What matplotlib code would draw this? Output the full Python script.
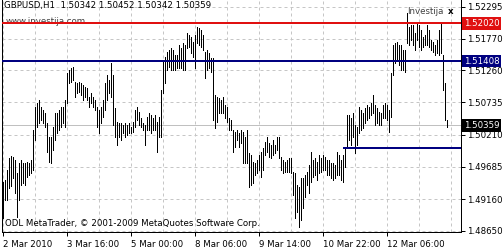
import numpy as np
import matplotlib.pyplot as plt

# GBPUSD H1 bars, high / low (oldest first)
highs = [1.4944, 1.4947, 1.4964, 1.4983, 1.4986, 1.4985, 1.4980, 1.4959, 1.4975, 1.4980,
         1.4975, 1.4975, 1.4977, 1.4975, 1.4980, 1.5029, 1.5066, 1.5073, 1.5077, 1.5066,
         1.5061, 1.5056, 1.5040, 1.5017, 1.5017, 1.5033, 1.5056, 1.5056, 1.5061, 1.5066,
         1.5066, 1.5077, 1.5121, 1.5126, 1.5129, 1.5131, 1.5107, 1.5105, 1.5107, 1.5105,
         1.5102, 1.5099, 1.5097, 1.5082, 1.5089, 1.5082, 1.5077, 1.5066, 1.5061, 1.5066,
         1.5077, 1.5105, 1.5118, 1.5110, 1.5138, 1.5118, 1.5064, 1.5042, 1.5040, 1.5040,
         1.5037, 1.5040, 1.5037, 1.5040, 1.5033, 1.5042, 1.5061, 1.5066, 1.5058, 1.5048,
         1.5040, 1.5037, 1.5050, 1.5056, 1.5053, 1.5048, 1.5053, 1.5042, 1.5050, 1.5094,
         1.5139, 1.5147, 1.5156, 1.5159, 1.5162, 1.5159, 1.5151, 1.5151, 1.5167, 1.5162,
         1.5170, 1.5167, 1.5186, 1.5183, 1.5180, 1.5172, 1.5183, 1.5196, 1.5195, 1.5191,
         1.5183, 1.5156, 1.5159, 1.5154, 1.5146, 1.5146, 1.5086, 1.5082, 1.5081, 1.5077,
         1.5082, 1.5069, 1.5066, 1.5048, 1.5045, 1.5029, 1.5025, 1.5029, 1.5024, 1.5029,
         1.5025, 1.5017, 1.5029, 1.4991, 1.4988, 1.4977, 1.4975, 1.4980, 1.4988, 1.4993,
         1.4999, 1.5009, 1.5017, 1.5007, 1.5004, 1.5012, 1.5004, 1.5017, 1.5017, 1.4985,
         1.4980, 1.4977, 1.4980, 1.4983, 1.4983, 1.4960, 1.4959, 1.4939, 1.4936, 1.4950,
         1.4950, 1.4955, 1.4960, 1.4972, 1.4993, 1.4980, 1.4983, 1.4977, 1.4988, 1.4983,
         1.4988, 1.4985, 1.4980, 1.4980, 1.4975, 1.4975, 1.4972, 1.4993, 1.4988, 1.4980,
         1.4988, 1.4999, 1.5053, 1.5053, 1.5048, 1.5056, 1.5037, 1.5033, 1.5066, 1.5061,
         1.5056, 1.5064, 1.5069, 1.5066, 1.5073, 1.5086, 1.5069, 1.5064, 1.5058, 1.5056,
         1.5069, 1.5073, 1.5069, 1.5061, 1.5121, 1.5167, 1.5170, 1.5172, 1.5167, 1.5167,
         1.5159, 1.5159, 1.5219, 1.5196, 1.5199, 1.5199, 1.5186, 1.5204, 1.5199, 1.5191,
         1.5180, 1.5183, 1.5199, 1.5191, 1.5175, 1.5172, 1.5167, 1.5175, 1.5191, 1.5204,
         1.5151, 1.5105, 1.50452]
lows = [1.4885, 1.4915, 1.4915, 1.4934, 1.4937, 1.4950, 1.4926, 1.4887, 1.4915, 1.4939,
        1.4942, 1.4939, 1.4952, 1.4955, 1.4959, 1.4964, 1.5012, 1.5033, 1.5040, 1.5045,
        1.5040, 1.5033, 1.4993, 1.4977, 1.4975, 1.4996, 1.5012, 1.5024, 1.5029, 1.5033,
        1.5040, 1.5033, 1.5073, 1.5105, 1.5107, 1.5110, 1.5082, 1.5089, 1.5090, 1.5086,
        1.5077, 1.5082, 1.5077, 1.5066, 1.5073, 1.5066, 1.5061, 1.5033, 1.5024, 1.5040,
        1.5050, 1.5061, 1.5077, 1.5089, 1.5082, 1.5037, 1.5017, 1.5004, 1.5017, 1.5012,
        1.5024, 1.5017, 1.5020, 1.5024, 1.5024, 1.5025, 1.5033, 1.5045, 1.5037, 1.5033,
        1.5029, 1.5004, 1.5029, 1.5029, 1.5024, 1.5029, 1.5029, 1.4993, 1.5017, 1.5017,
        1.5089, 1.5105, 1.5126, 1.5131, 1.5126, 1.5126, 1.5126, 1.5129, 1.5129, 1.5129,
        1.5126, 1.5126, 1.5162, 1.5164, 1.5154, 1.5147, 1.5129, 1.5170, 1.5167, 1.5164,
        1.5159, 1.5113, 1.5126, 1.5129, 1.5123, 1.5045, 1.5032, 1.5042, 1.5056, 1.5056,
        1.5056, 1.5048, 1.5042, 1.5029, 1.5029, 1.4993, 1.5001, 1.5012, 1.5001, 1.5007,
        1.4975, 1.4975, 1.4975, 1.4936, 1.4939, 1.4942, 1.4955, 1.4959, 1.4964, 1.4952,
        1.4964, 1.4988, 1.4993, 1.4985, 1.4983, 1.4988, 1.4991, 1.4996, 1.4983, 1.4964,
        1.4959, 1.4960, 1.4960, 1.4960, 1.4959, 1.4923, 1.4885, 1.4895, 1.4871, 1.4882,
        1.4902, 1.4920, 1.4939, 1.4926, 1.4944, 1.4952, 1.4955, 1.4947, 1.4959, 1.4960,
        1.4964, 1.4964, 1.4955, 1.4955, 1.4950, 1.4947, 1.4950, 1.4955, 1.4955, 1.4947,
        1.4944, 1.4968, 1.5001, 1.5012, 1.5004, 1.5017, 1.4991, 1.5004, 1.5024, 1.5029,
        1.5032, 1.5040, 1.5045, 1.5048, 1.5053, 1.5056, 1.5037, 1.5040, 1.5037, 1.5037,
        1.5048, 1.5048, 1.5045, 1.5025, 1.5050, 1.5118, 1.5138, 1.5142, 1.5134, 1.5126,
        1.5126, 1.5123, 1.5170, 1.5167, 1.5175, 1.5167, 1.5159, 1.5175, 1.5164, 1.5159,
        1.5164, 1.5167, 1.5167, 1.5164, 1.5159, 1.5156, 1.5151, 1.5154, 1.5151, 1.5154,
        1.5094, 1.5045, 1.50342]

time_labels = ["2 Mar 2010", "3 Mar 16:00", "5 Mar 00:00", "8 Mar 06:00",
               "9 Mar 14:00", "10 Mar 22:00", "12 Mar 06:00"]
time_pos = [0, 32, 64, 96, 128, 160, 192]
price_ticks = [1.52295, 1.51770, 1.51260, 1.50735, 1.50210, 1.49685, 1.49160, 1.48650]

resist = 1.52020
support_hi = 1.51408
bid = 1.50359
support_lo = 1.5000
support_lo_start = 170

px = 0.72  # one pixel in points at dpi 100
font = 'DejaVu Sans'
fs = 6.2

fig = plt.figure(figsize=(5.03, 2.5), dpi=100)
ax = fig.add_axes([2/503, 18/250, 459/503, 232/250])
ax.set_xlim(-0.5, 229)
ax.set_ylim(1.48626, 1.52401)

# grid
for g in range(0, 230, 16):
    ax.axvline(g, color='#c6c6c6', lw=px, ls=(0, (3, 3)), zorder=0)
for p in price_ticks:
    ax.axhline(p, color='#c6c6c6', lw=px, ls=(0, (3, 3)), zorder=0)

# bid line
ax.axhline(bid, color='#c0c0c0', lw=px, zorder=1)

# bars
x = np.arange(len(highs))
ax.vlines(x, lows, highs, color='black', lw=px, antialiased=False, zorder=2)

# horizontal levels
ax.axhline(resist, color='#e01010', lw=2*px, zorder=3)
ax.axhline(support_hi, color='#000080', lw=2*px, zorder=3)
ax.hlines(support_lo, support_lo_start, 229, color='#000080', lw=2*px, zorder=3)

# axes style
for s in ['top']:
    ax.spines[s].set_visible(False)
for s in ['left', 'right', 'bottom']:
    ax.spines[s].set_linewidth(px)
ax.yaxis.tick_right()
ax.set_yticks(price_ticks)
ax.set_yticklabels(['%.5f' % p for p in price_ticks], fontsize=fs, family=font)
ax.tick_params(axis='y', length=3, width=px, pad=1.5)
ax.set_xticks(time_pos)
ax.set_xticklabels(time_labels, fontsize=fs, family=font, ha='left')
ax.tick_params(axis='x', length=3, width=px, pad=3)

# price tags
ytr = ax.get_yaxis_transform()
for val, col in [(resist, '#e01010'), (support_hi, '#000080'), (bid, 'black')]:
    ax.text(1.0 + 3/459, val, '%.5f' % val, transform=ytr, fontsize=fs, family=font,
            color='white', ha='left', va='center', zorder=5,
            bbox=dict(facecolor=col, edgecolor='none', pad=1.2), clip_on=False)

# texts
fig.text(4/503, 1 - 1/250, 'GBPUSD,H1  1.50342 1.50452 1.50342 1.50359',
         fontsize=fs, family=font, va='top', ha='left')
ax.text(4/459, 1 - 17/232, 'www.investija.com', transform=ax.transAxes,
        fontsize=fs, family=font, va='top', ha='left', color='#404040', zorder=2)
fig.text(407/503, 1 - 7/250, 'Investija', fontsize=fs, family=font,
         va='top', ha='left', color='#404040')
fig.text(448/503, 1 - 7/250, 'x', fontsize=fs, family=font, fontweight='bold',
         va='top', ha='left')
fig.text(5/503, 1 - 219/250, 'ODL MetaTrader, \u00a9 2001-2009 MetaQuotes Software Corp.',
         fontsize=fs, family=font, va='top', ha='left')

fig.savefig('out.png', dpi=100)
